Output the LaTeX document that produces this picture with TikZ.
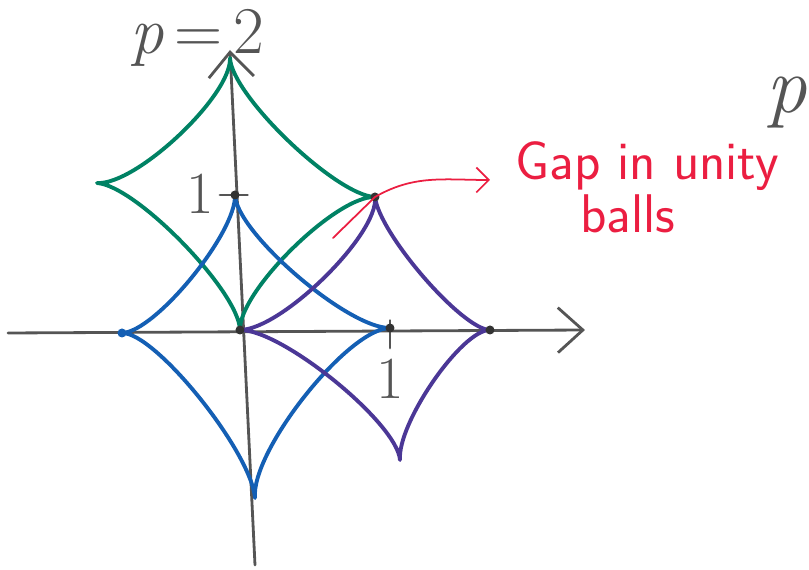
\documentclass[tikz,border=0pt]{standalone}
\usepackage{tikz}
\usepackage{xcolor}
\usetikzlibrary{arrows.meta, positioning, calc}

\definecolor{ballgreen}{RGB}{0,130,100}
\definecolor{ballblue}{RGB}{20,95,180}
\definecolor{ballpurple}{RGB}{75,55,150}
\definecolor{axisgray}{RGB}{85,85,85}
\definecolor{gapred}{RGB}{235,30,65}

\begin{document}
\begin{tikzpicture}[
  axis/.style={draw=axisgray, line width=1.6pt, line cap=round},
  ball/.style={line width=2.2pt, line cap=round, line join=round},
  inward/.style={to path={.. controls ($(\tikztostart)!0.28!(#1)$) and ($(\tikztotarget)!0.28!(#1)$) .. (\tikztotarget)}},
  lbl/.style={text=axisgray, font=\fontsize{34}{36}\selectfont},
  gaptext/.style={text=gapred, font=\sffamily\fontsize{31}{33}\selectfont, anchor=base west, inner sep=0pt},
  pt/.style={fill=black!80},
  >={Straight Barb[length=0.5cm, width=0.9cm]}
]
\useasboundingbox (-4.8,-4.8) rectangle (11.38,6.6);

\coordinate (O)  at (0,0);
\coordinate (bT) at (-0.1,2.7);
\coordinate (bR) at (3.0,0.04);
\coordinate (bB) at (0.3,-3.36);
\coordinate (bL) at (-2.36,-0.06);
\coordinate (gT) at (-0.2,5.44);
\coordinate (gL) at (-2.86,2.94);
\coordinate (gC) at (-0.08,2.76);
\coordinate (G)  at (2.7,2.66);
\coordinate (pR) at (5.0,0);
\coordinate (pB) at (3.2,-2.6);

\coordinate (xs) at (-4.64,-0.06);
\coordinate (xe) at (6.9,0);
\coordinate (ys) at (0.3,-4.7);
\coordinate (ye) at (-0.2,5.6);

\draw[axis, ->] (xs) -- (xe);
\draw[axis, ->] (ys) -- (ye);
\draw[axis] ($(bT)+(-0.3,0)$) -- ($(bT)+(0.25,0)$);
\draw[axis] ($(bR)+(0,0.15)$) -- ($(bR)+(0,-0.4)$);

\draw[ball, ballgreen]  (gT) to[inward=gC] (G) to[inward=gC] (O) to[inward=gC] (gL) to[inward=gC] (gT);
\draw[ball, ballblue]   (bT) to[inward=O] (bR) to[inward=O] (bB) to[inward=O] (bL) to[inward=O] (bT);
\draw[ball, ballpurple] (G) to[inward=bR] (pR) to[inward=bR] (pB) to[inward=bR] (O) to[inward=bR] (G);

\foreach \p in {O, G, bR, bT, pR} \fill[pt] (\p) circle (0.09);
\fill[ballblue] (bL) circle (0.09);

\node[lbl] (one y) at (-0.8,2.72) {1};
\node[lbl] (one x) at (3.0,-0.98) {1};
\node[lbl, font=\fontsize{38}{40}\selectfont] (ptwo) at (-0.85,5.84) {\textit{p}\,=\,2};
\node[lbl, font=\fontsize{46}{48}\selectfont, anchor=east, inner sep=1pt] (pr) at (11.38,4.55) {\textit{p}};

\coordinate (gapfoot) at (1.86,1.84);
\coordinate (gaptip) at (5.0,3.0);
\draw[gapred, line width=1pt, line cap=round, -{Straight Barb[length=0.25cm, width=0.5cm]}] (gapfoot) -- (G) to[out=30, in=180] (gaptip);
\node[gaptext] (gap)   at (5.5,3.0) {Gap in unity};
\node[gaptext] (balls) at (6.8,1.94) {balls};
\end{tikzpicture}
\end{document}
